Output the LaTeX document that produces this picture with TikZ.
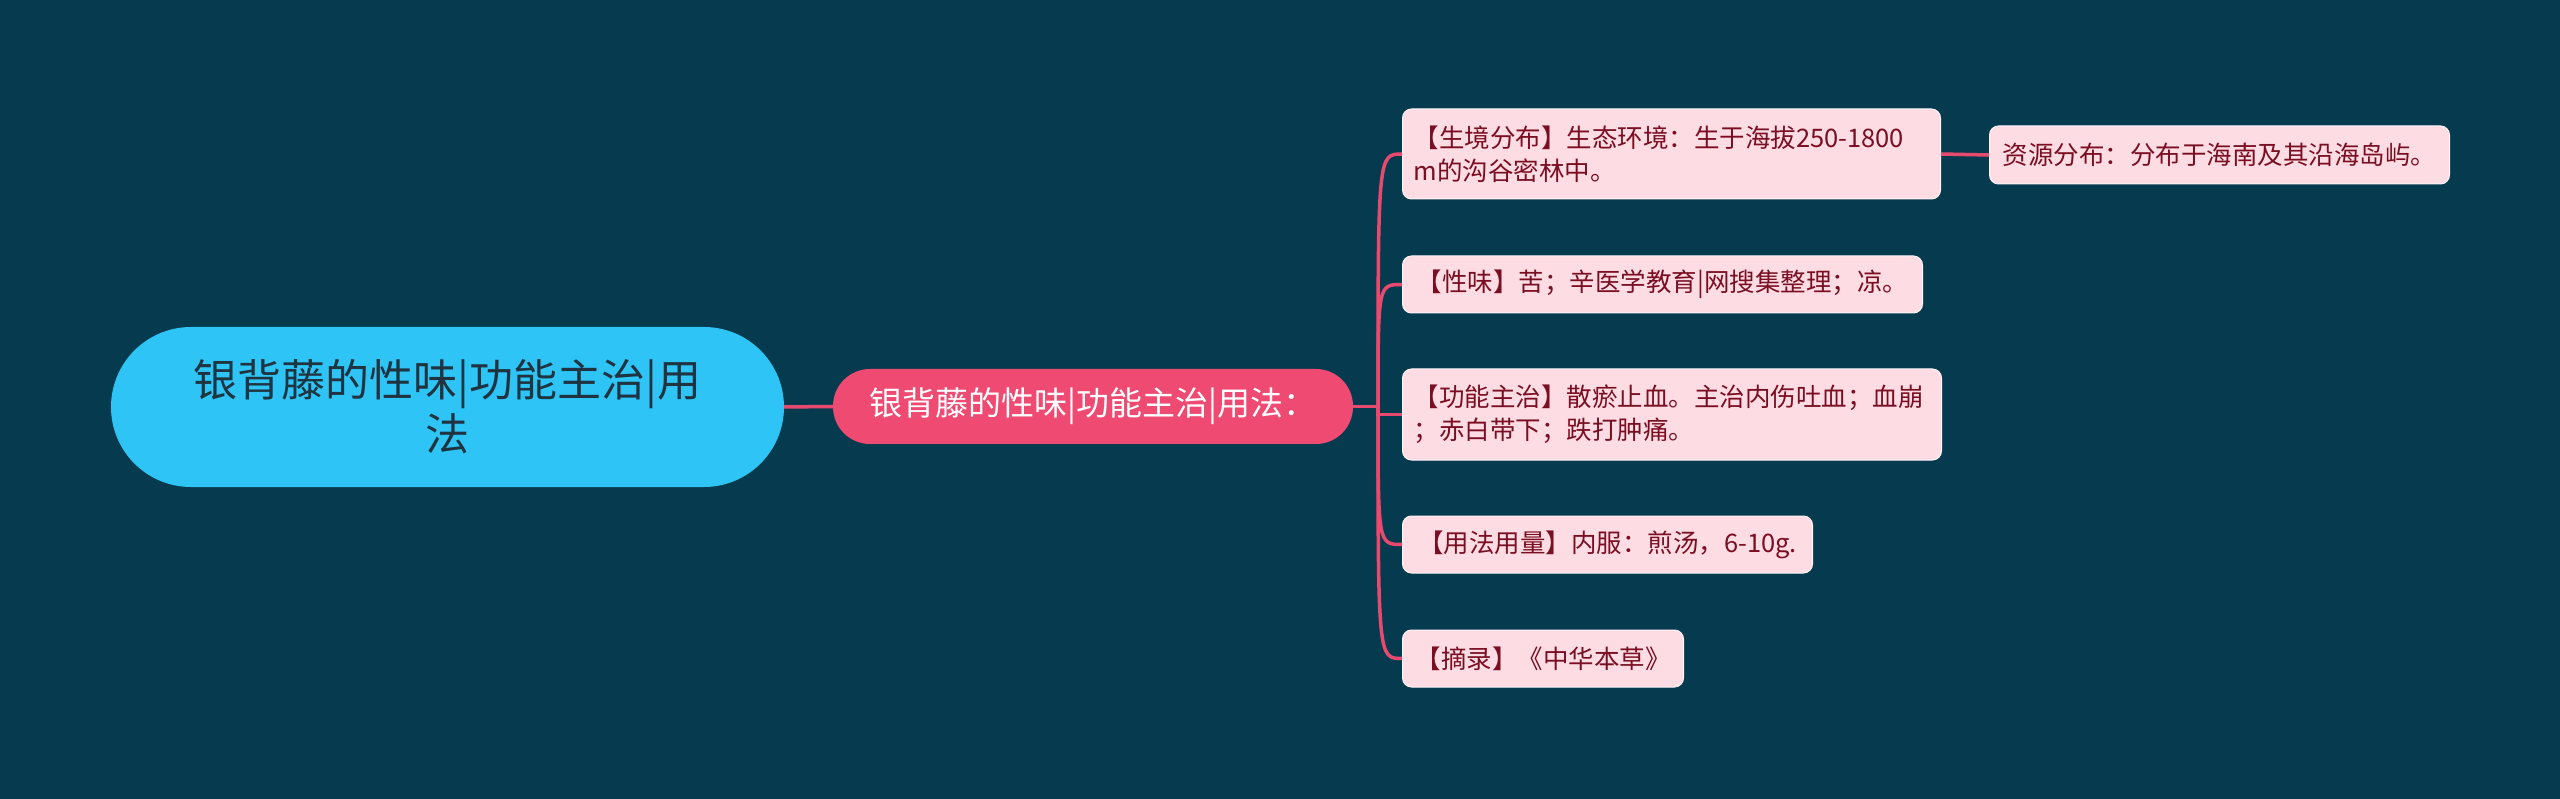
\documentclass[tikz,border=0pt]{standalone}
\usepackage{fontspec}
\setmainfont{Noto Sans CJK SC}
\newfontfamily\cjk{Noto Sans CJK SC}
\definecolor{bgc}{HTML}{063A4E}
\definecolor{rootc}{HTML}{2EC4F5}
\definecolor{roottxt}{HTML}{1F3440}
\definecolor{mainc}{HTML}{EE4A72}
\definecolor{childc}{HTML}{FDDCE3}
\definecolor{childtxt}{HTML}{7A0E22}
\definecolor{linec}{HTML}{E84A6F}
\begin{document}
\begin{tikzpicture}[x=1pt,y=-1pt,
  rootbox/.style={fill=rootc,text=roottxt,rounded corners=80pt,minimum width=673pt,minimum height=160pt,align=center,font=\cjk\fontsize{44}{54}\selectfont,inner sep=0pt},
  mainbox/.style={fill=mainc,text=white,rounded corners=37pt,minimum width=520pt,minimum height=75pt,font=\cjk\fontsize{33}{40}\selectfont,inner sep=0pt},
  childbox/.style={fill=childc,draw=white!70!childc,line width=1pt,text=childtxt,rounded corners=9pt,anchor=west,align=left,font=\cjk\fontsize{25.5}{33}\selectfont,inner xsep=11pt,inner ysep=0pt,minimum height=57pt},
  conn/.style={draw=linec,line width=3.5pt}
]
\useasboundingbox (0,0) rectangle (2560,799);
\fill[bgc] (0,0) rectangle (2560,799);
\node[rootbox] (root) at (447.5,407) {银背藤的性味|功能主治|用\\法};
\node[mainbox] (main) at (1093,406.5) {银背藤的性味|功能主治|用法：};
\node[childbox,minimum width=538pt,minimum height=90pt,text width=516pt] (c1) at (1402,154) {【生境分布】生态环境：生于海拔250-1800\\m的沟谷密林中。};
\node[childbox,minimum width=520pt] (c2) at (1402,284.5) {【性味】苦；辛医学教育|网搜集整理；凉。};
\node[childbox,minimum width=539pt,minimum height=91pt,text width=517pt] (c3) at (1402,414.5) {【功能主治】散瘀止血。主治内伤吐血；血崩\\；赤白带下；跌打肿痛。};
\node[childbox,minimum width=410pt] (c4) at (1402,544.5) {【用法用量】内服：煎汤，6-10g.};
\node[childbox,minimum width=281pt] (c5) at (1402,658.5) {【摘录】《中华本草》};
\node[childbox,minimum width=460pt,minimum height=58pt] (g1) at (1989,155) {资源分布：分布于海南及其沿海岛屿。};
\coordinate (hub) at (1378,406.5);
\draw[conn] (root.east) -- (main.west);
\draw[conn] (main.east) -- (hub);
\foreach \c in {c1,c2,c4,c5}{
  \draw[conn] (hub) .. controls (hub |- \c.west) .. (\c.west);
}
\draw[conn] (hub) |- (c3.west);
\draw[conn] (c1.east) -- (g1.west);
\end{tikzpicture}
\end{document}
